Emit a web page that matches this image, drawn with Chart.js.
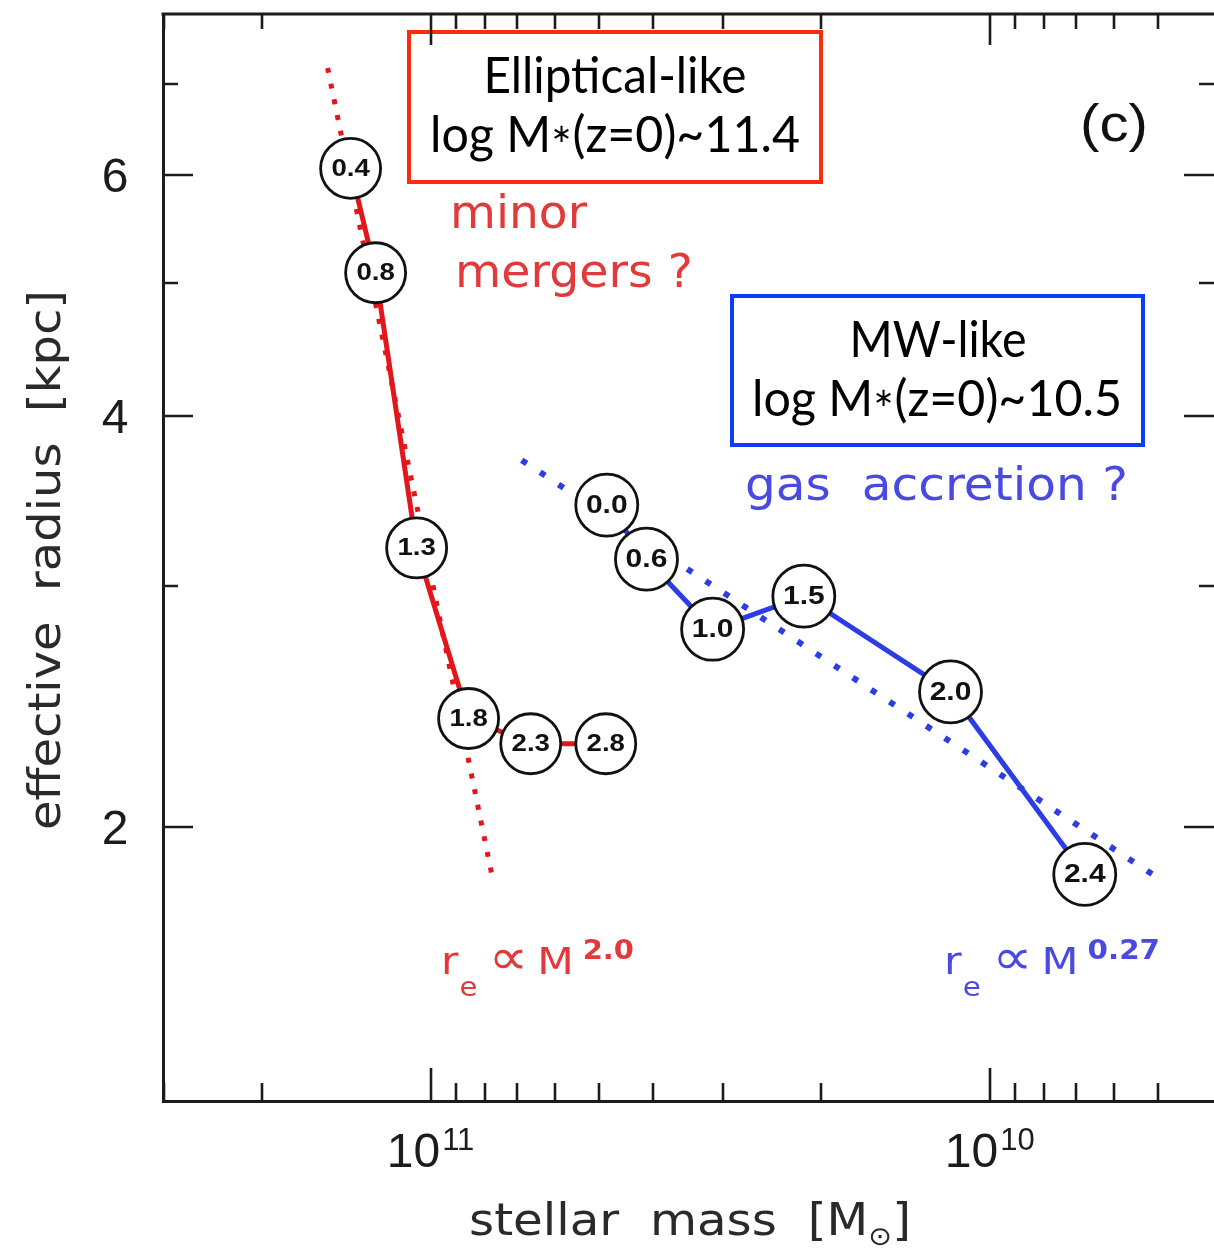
<!DOCTYPE html>
<html>
<head>
<meta charset="utf-8">
<title>effective radius vs stellar mass</title>
<script src="https://cdn.jsdelivr.net/npm/chart.js@4.4.1/dist/chart.umd.min.js"></script>
<style>
  html, body { margin: 0; padding: 0; background: #fff; overflow: hidden; }
  #wrap { width: 1214px; height: 1251px; }
</style>
</head>
<body>
<div id="wrap"><canvas id="chart" width="1214" height="1251"></canvas></div>
<script>
// Size evolution of progenitors: effective radius vs stellar mass (mass axis reversed)

// ---------- data ----------
const ellipMass   = [1.39e11, 1.254e11, 1.059e11, 8.55e10, 6.62e10, 4.86e10];
const ellipRadius = [6.07, 5.09, 3.20, 2.40, 2.30, 2.30];
const ellipZ      = ["0.4", "0.8", "1.3", "1.8", "2.3", "2.8"];

const mwMass   = [4.84e10, 4.11e10, 3.13e10, 2.15e10, 1.175e10, 6.76e9];
const mwRadius = [3.44, 3.14, 2.79, 2.95, 2.51, 1.845];
const mwZ      = ["0.0", "0.6", "1.0", "1.5", "2.0", "2.4"];

// power-law guides, r_e ∝ M^2.0 and r_e ∝ M^0.27 (end points)
const ellipFitMass   = [1.528e11, 7.74e10];
const ellipFitRadius = [7.19, 1.83];
const mwFitMass   = [6.87e10, 4.86e9];
const mwFitRadius = [3.71, 1.82];

const xTicks = [3e11, 2e11, 1e11, 9e10, 8e10, 7e10, 6e10, 5e10, 4e10, 3e10, 2e10,
                1e10, 9e9, 8e9, 7e9, 6e9, 5e9];
const xMajor = { 1e11: "11", 1e10: "10" };
const yTicks = [2, 3, 4, 5, 6, 7];
const yLabelled = [2, 4, 6];

const X_MIN = 3.97e9, X_MAX = 3.01e11;
const Y_MIN = 1.259, Y_MAX = 7.875;

// ---------- colours / fonts ----------
const INK = "#1c1c1c";
const RED = "#e3161b";
const BLUE = "#2b3de3";
const RED_TEXT = "#e2393b";
const BLUE_TEXT = "#4a4ae2";
const BOX_RED = "#fb2c0c";
const BOX_BLUE = "#0c3cf5";
const HELV = "'Liberation Sans', Arial, sans-serif";
const GILL = "Lato, 'Open Sans', sans-serif";
const GOTH = "'DejaVu Sans', 'Noto Sans', sans-serif";

const toXY = (xs, ys) => xs.map((x, i) => ({ x: x, y: ys[i] }));

// draw a row of text pieces, optionally squeezed/stretched to a given width
function drawRuns(ctx, runs, x, y, align, width) {
  ctx.save();
  let total = 0;
  runs.forEach(r => { ctx.font = r.font; r.w = ctx.measureText(r.t).width; total += r.w + (r.gap || 0); });
  const sx = width ? width / total : 1;
  const start = align === "center" ? -total / 2 : align === "right" ? -total : 0;
  ctx.translate(x, y);
  ctx.scale(sx, 1);
  ctx.textAlign = "left";
  ctx.textBaseline = "alphabetic";
  let cx = start;
  runs.forEach(r => {
    ctx.font = r.font;
    ctx.fillStyle = r.color;
    ctx.fillText(r.t, cx + (r.gap || 0), r.dy || 0);
    cx += r.w + (r.gap || 0);
  });
  ctx.restore();
}

function box(ctx, x, y, w, h, color) {
  ctx.save();
  ctx.fillStyle = "#fff";
  ctx.fillRect(x, y, w, h);
  ctx.strokeStyle = color;
  ctx.lineWidth = 4;
  ctx.strokeRect(x, y, w, h);
  ctx.restore();
}

// ---------- frame: inward ticks on all sides, top line, tick labels, titles ----------
const framePlugin = {
  id: "frame",
  afterDraw(chart) {
    const ctx = chart.ctx;
    const a = chart.chartArea;
    const xs = chart.scales.x, ys = chart.scales.y;
    ctx.save();
    ctx.strokeStyle = INK;
    ctx.lineWidth = 3;
    ctx.beginPath();
    ctx.moveTo(a.left - 1.5, a.top);
    ctx.lineTo(a.right, a.top);
    ctx.stroke();

    ctx.lineWidth = 2.6;
    xTicks.forEach(v => {
      const px = Math.round(xs.getPixelForValue(v));
      const len = xMajor[v] ? 33 : 18;
      ctx.beginPath();
      ctx.moveTo(px, a.bottom); ctx.lineTo(px, a.bottom - len);
      ctx.moveTo(px, a.top); ctx.lineTo(px, a.top + (xMajor[v] ? 31 : 15));
      ctx.stroke();
    });
    yTicks.forEach(v => {
      const py = Math.round(ys.getPixelForValue(v));
      const len = yLabelled.includes(v) ? 30 : 15;
      ctx.beginPath();
      ctx.moveTo(a.left, py); ctx.lineTo(a.left + len, py);
      ctx.moveTo(a.right, py); ctx.lineTo(a.right - len, py);
      ctx.stroke();
    });
    ctx.restore();

    // tick labels
    yLabelled.forEach(v => {
      const py = ys.getPixelForValue(v);
      drawRuns(ctx, [{ t: String(v), font: "48px " + HELV, color: INK }], 115, py + 17, "center");
    });
    Object.keys(xMajor).forEach(k => {
      const px = xs.getPixelForValue(Number(k));
      drawRuns(ctx, [
        { t: "10", font: "48px " + HELV, color: INK },
        { t: xMajor[k], font: "31px " + HELV, color: INK, dy: -17, gap: 2 }
      ], px, 1167, "center");
    });

    // axis titles
    drawRuns(ctx, [
      { t: "stellar  mass  [M", font: "44px " + GOTH, color: "#2a2a2a" },
      { t: "⊙", font: "26px " + GOTH, color: "#2a2a2a", dy: 10 },
      { t: "]", font: "44px " + GOTH, color: "#2a2a2a" }
    ], 690, 1235, "center", 442);
    ctx.save();
    ctx.translate(60, 560);
    ctx.rotate(-Math.PI / 2);
    drawRuns(ctx, [{ t: "effective  radius  [kpc]", font: "44px " + GOTH, color: "#2a2a2a" }], 0, 0, "center", 540);
    ctx.restore();
  }
};

// ---------- annotations + redshift labels in the circles ----------
const notesPlugin = {
  id: "notes",
  afterDatasetsDraw(chart) {
    const ctx = chart.ctx;

    chart.data.datasets.forEach((ds, i) => {
      if (!ds.zLabels) return;
      const meta = chart.getDatasetMeta(i);
      meta.data.forEach((pt, j) => {
        ctx.save();
        ctx.translate(pt.x, pt.y);
        ctx.scale(1.2, 1);
        ctx.font = "bold " + ds.zFont + "px " + HELV;
        ctx.fillStyle = "#111";
        ctx.textAlign = "center";
        ctx.textBaseline = "middle";
        ctx.fillText(ds.zLabels[j], 0, 1);
        ctx.restore();
      });
    });

    // boxed captions
    box(ctx, 409, 32, 412, 150, BOX_RED);
    drawRuns(ctx, [{ t: "Elliptical-like", font: "50px " + GILL, color: "#000" }], 615, 93, "center", 263);
    drawRuns(ctx, [
      { t: "log M", font: "50px " + GILL, color: "#000" },
      { t: "∗", font: "26px " + GILL, color: "#000", dy: -10 },
      { t: "(z=0)~11.4", font: "50px " + GILL, color: "#000" }
    ], 615, 152, "center", 370);

    box(ctx, 732, 296, 411, 149, BOX_BLUE);
    drawRuns(ctx, [{ t: "MW-like", font: "50px " + GILL, color: "#000" }], 938, 357, "center", 177);
    drawRuns(ctx, [
      { t: "log M", font: "50px " + GILL, color: "#000" },
      { t: "∗", font: "26px " + GILL, color: "#000", dy: -10 },
      { t: "(z=0)~10.5", font: "50px " + GILL, color: "#000" }
    ], 937, 416, "center", 370);

    drawRuns(ctx, [{ t: "(c)", font: "52px " + HELV, color: "#111" }], 1114, 141, "center", 68);

    // process labels
    drawRuns(ctx, [{ t: "minor", font: "47px " + GOTH, color: RED_TEXT }], 450, 228, "left", 137);
    drawRuns(ctx, [{ t: "mergers ?", font: "47px " + GOTH, color: RED_TEXT }], 455, 287, "left", 238);
    drawRuns(ctx, [{ t: "gas  accretion ?", font: "47px " + GOTH, color: BLUE_TEXT }], 745, 500, "left", 383);

    // slopes
    drawRuns(ctx, [
      { t: "r", font: "38px " + GOTH, color: RED_TEXT },
      { t: "e", font: "26px " + GOTH, color: RED_TEXT, dy: 22, gap: 1 },
      { t: "∝", font: "50px " + GOTH, color: RED_TEXT, gap: 10 },
      { t: "M", font: "38px " + GOTH, color: RED_TEXT, gap: 8 },
      { t: "2.0", font: "600 26px " + GOTH, color: RED_TEXT, dy: -15, gap: 8 }
    ], 441, 974, "left", 193);
    drawRuns(ctx, [
      { t: "r", font: "38px " + GOTH, color: BLUE_TEXT },
      { t: "e", font: "26px " + GOTH, color: BLUE_TEXT, dy: 22, gap: 1 },
      { t: "∝", font: "50px " + GOTH, color: BLUE_TEXT, gap: 10 },
      { t: "M", font: "38px " + GOTH, color: BLUE_TEXT, gap: 8 },
      { t: "0.27", font: "600 26px " + GOTH, color: BLUE_TEXT, dy: -15, gap: 8 }
    ], 944, 974, "left", 216);
  }
};

new Chart(document.getElementById("chart"), {
  type: "scatter",
  data: {
    datasets: [
      {
        data: toXY(ellipMass, ellipRadius), showLine: true, order: 1,
        borderColor: RED, borderWidth: 5,
        pointRadius: 30, pointBackgroundColor: "#fff", pointBorderColor: "#111", pointBorderWidth: 2.8,
        zLabels: ellipZ, zFont: 23
      },
      {
        data: toXY(mwMass, mwRadius), showLine: true, order: 1,
        borderColor: BLUE, borderWidth: 5,
        pointRadius: 31, pointBackgroundColor: "#fff", pointBorderColor: "#111", pointBorderWidth: 2.8,
        zLabels: mwZ, zFont: 25
      },
      {
        data: toXY(ellipFitMass, ellipFitRadius), showLine: true, order: 2,
        borderColor: RED, borderWidth: 5, borderDash: [5, 11], borderCapStyle: "butt", pointRadius: 0
      },
      {
        data: toXY(mwFitMass, mwFitRadius), showLine: true, order: 2,
        borderColor: BLUE, borderWidth: 6, borderDash: [6, 16], borderCapStyle: "butt", pointRadius: 0
      }
    ]
  },
  options: {
    responsive: false,
    animation: false,
    events: [],
    layout: { autoPadding: false, padding: { top: 14, right: 0, bottom: 0, left: 0 } },
    plugins: { legend: { display: false }, tooltip: { enabled: false } },
    scales: {
      x: {
        type: "logarithmic", reverse: true, min: X_MIN, max: X_MAX,
        grid: { display: false, drawTicks: false },
        border: { display: true, width: 3, color: INK },
        ticks: { display: false },
        afterFit: (s) => { s.height = 150; }
      },
      y: {
        type: "logarithmic", min: Y_MIN, max: Y_MAX,
        grid: { display: false, drawTicks: false },
        border: { display: true, width: 3, color: INK },
        ticks: { display: false },
        afterFit: (s) => { s.width = 163; }
      }
    }
  },
  plugins: [framePlugin, notesPlugin]
});
</script>
</body>
</html>
